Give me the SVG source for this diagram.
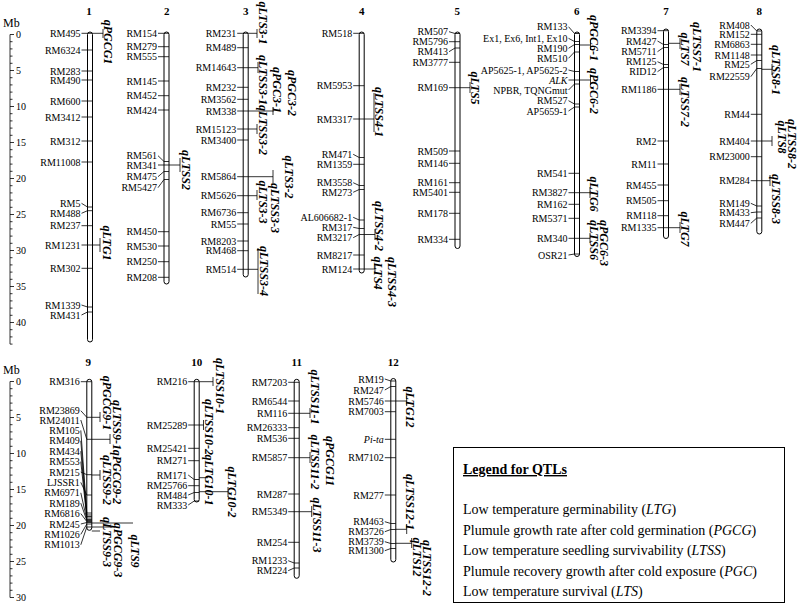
<svg xmlns="http://www.w3.org/2000/svg" width="800" height="605" viewBox="0 0 800 605">
<style>
.m{font-family:'Liberation Serif',serif;font-size:10px;text-anchor:end;fill:#000}
.i{font-style:italic}
.q{font-family:'Liberation Serif',serif;font-size:12px;font-style:italic;font-weight:bold;text-anchor:middle;fill:#000}
.h{font-family:'Liberation Serif',serif;font-size:11px;font-weight:bold;text-anchor:middle;fill:#000}
.s{font-family:'Liberation Serif',serif;font-size:10px;fill:#000}
.mb{font-family:'Liberation Serif',serif;font-size:12px;fill:#000}
.c{fill:#fff;stroke:#000;stroke-width:1}
.l{fill:none;stroke:#000;stroke-width:0.8}
.lg{font-family:'Liberation Serif',serif;font-size:14px;fill:#000}
</style>
<rect width="800" height="605" fill="#fff"/>
<g id="scale-top">
<text class="mb" x="3" y="27">Mb</text>
<path class="l" d="M10,34.5V344.1M10,34.5h4M10,41.7h2.5M10,48.9h2.5M10,56.1h2.5M10,63.3h2.5M10,70.5h4M10,77.7h2.5M10,84.9h2.5M10,92.1h2.5M10,99.3h2.5M10,106.5h4M10,113.7h2.5M10,120.9h2.5M10,128.1h2.5M10,135.3h2.5M10,142.5h4M10,149.7h2.5M10,156.9h2.5M10,164.1h2.5M10,171.3h2.5M10,178.5h4M10,185.7h2.5M10,192.9h2.5M10,200.1h2.5M10,207.3h2.5M10,214.5h4M10,221.7h2.5M10,228.9h2.5M10,236.1h2.5M10,243.3h2.5M10,250.5h4M10,257.7h2.5M10,264.9h2.5M10,272.1h2.5M10,279.3h2.5M10,286.5h4M10,293.7h2.5M10,300.9h2.5M10,308.1h2.5M10,315.3h2.5M10,322.5h4M10,329.7h2.5M10,336.9h2.5M10,344.1h2.5"/>
<text class="s" x="16" y="38">0</text><text class="s" x="16" y="74">5</text><text class="s" x="16" y="110">10</text><text class="s" x="16" y="146">15</text><text class="s" x="16" y="182">20</text><text class="s" x="16" y="218">25</text><text class="s" x="16" y="254">30</text><text class="s" x="16" y="290">35</text><text class="s" x="16" y="326">40</text>
</g>
<g id="scale-bottom">
<text class="mb" x="3" y="374">Mb</text>
<path class="l" d="M10,381.5V597.5M10,381.5h4M10,388.7h2.5M10,395.9h2.5M10,403.1h2.5M10,410.3h2.5M10,417.5h4M10,424.7h2.5M10,431.9h2.5M10,439.1h2.5M10,446.3h2.5M10,453.5h4M10,460.7h2.5M10,467.9h2.5M10,475.1h2.5M10,482.3h2.5M10,489.5h4M10,496.7h2.5M10,503.9h2.5M10,511.1h2.5M10,518.3h2.5M10,525.5h4M10,532.7h2.5M10,539.9h2.5M10,547.1h2.5M10,554.3h2.5M10,561.5h4M10,568.7h2.5M10,575.9h2.5M10,583.1h2.5M10,590.3h2.5M10,597.5h4"/>
<text class="s" x="16" y="385">0</text><text class="s" x="16" y="421">5</text><text class="s" x="16" y="457">10</text><text class="s" x="16" y="493">15</text><text class="s" x="16" y="529">20</text><text class="s" x="16" y="565">25</text><text class="s" x="16" y="601">30</text>
</g>

<g id="chr1">
<text class="h" x="89" y="15">1</text>
<rect class="c" x="87.5" y="32" width="5" height="310" rx="2.5"/>
<path class="l" d="M81.5,33.3H92.5M81.5,50H92.5M81.5,71H92.5M81.5,80H92.5M81.5,101H92.5M81.5,117H92.5M81.5,141H92.5M81.5,162H92.5M81.5,203.3L87.5,207H92.5M81.5,213.3L87.5,210.7H92.5M81.5,225.7H92.5M81.5,245H92.5M81.5,268.3H92.5M81.5,305L87.5,307H92.5M81.5,315L87.5,312H92.5"/>
<text class="m" x="80.5" y="36.8">RM495</text><text class="m" x="80.5" y="53.5">RM6324</text><text class="m" x="80.5" y="74.5">RM283</text><text class="m" x="80.5" y="83.5">RM490</text><text class="m" x="80.5" y="104.5">RM600</text><text class="m" x="80.5" y="120.5">RM3412</text><text class="m" x="80.5" y="144.5">RM312</text><text class="m" x="80.5" y="165.5">RM11008</text><text class="m" x="80.5" y="206.8">RM5</text><text class="m" x="80.5" y="216.8">RM488</text><text class="m" x="80.5" y="229.2">RM237</text><text class="m" x="80.5" y="248.5">RM1231</text><text class="m" x="80.5" y="271.8">RM302</text><text class="m" x="80.5" y="308.5">RM1339</text><text class="m" x="80.5" y="318.5">RM431</text>
</g>

<g id="chr2">
<text class="h" x="166.7" y="15">2</text>
<rect class="c" x="164" y="32" width="5" height="252" rx="2.5"/>
<path class="l" d="M158,33.3H169M158,46.7H169M158,56.7H169M158,81H169M158,95.7H169M158,110H169M158,155.7L164,161.5H169M158,165H169M158,176.7L164,171.5H169M158,187.7L164,179.5H169M158,231.7H169M158,246H169M158,261.7H169M158,277.3H169"/>
<text class="m" x="157" y="36.8">RM154</text><text class="m" x="157" y="50.2">RM279</text><text class="m" x="157" y="60.2">RM555</text><text class="m" x="157" y="84.5">RM145</text><text class="m" x="157" y="99.2">RM452</text><text class="m" x="157" y="113.5">RM424</text><text class="m" x="157" y="159.2">RM561</text><text class="m" x="157" y="168.5">RM341</text><text class="m" x="157" y="180.2">RM475</text><text class="m" x="157" y="191.2">RM5427</text><text class="m" x="157" y="235.2">RM450</text><text class="m" x="157" y="249.5">RM530</text><text class="m" x="157" y="265.2">RM250</text><text class="m" x="157" y="280.8">RM208</text>
</g>

<g id="chr3">
<text class="h" x="245.7" y="15">3</text>
<rect class="c" x="243.2" y="32" width="5" height="245" rx="2.5"/>
<path class="l" d="M237.2,33.3H248.2M237.2,47.7H248.2M237.2,67.7H248.2M237.2,87.3H248.2M237.2,99.3H248.2M237.2,111H248.2M237.2,129H248.2M237.2,140H248.2M237.2,176.7H248.2M237.2,195.7H248.2M237.2,212.7H248.2M237.2,224H248.2M237.2,241H248.2M237.2,250.7H248.2M237.2,269.3H248.2"/>
<text class="m" x="236.2" y="36.8">RM231</text><text class="m" x="236.2" y="51.2">RM489</text><text class="m" x="236.2" y="71.2">RM14643</text><text class="m" x="236.2" y="90.8">RM232</text><text class="m" x="236.2" y="102.8">RM3562</text><text class="m" x="236.2" y="114.5">RM338</text><text class="m" x="236.2" y="132.5">RM15123</text><text class="m" x="236.2" y="143.5">RM3400</text><text class="m" x="236.2" y="180.2">RM5864</text><text class="m" x="236.2" y="199.2">RM5626</text><text class="m" x="236.2" y="216.2">RM6736</text><text class="m" x="236.2" y="227.5">RM55</text><text class="m" x="236.2" y="244.5">RM8203</text><text class="m" x="236.2" y="254.2">RM468</text><text class="m" x="236.2" y="272.8">RM514</text>
</g>

<g id="chr4">
<text class="h" x="361.7" y="15">4</text>
<rect class="c" x="359.2" y="32" width="5" height="241" rx="2.5"/>
<path class="l" d="M353.2,33.3H364.2M353.2,85.7H364.2M353.2,119H364.2M353.2,154.3L359.2,157.5H364.2M353.2,164.3H364.2M353.2,182.7L359.2,185.5H364.2M353.2,192.3L359.2,189.5H364.2M353.2,217.3L359.2,220H364.2M353.2,227.3L359.2,228.5H364.2M353.2,237.7L359.2,234.5H364.2M353.2,255H364.2M353.2,269H364.2"/>
<text class="m" x="352.2" y="36.8">RM518</text><text class="m" x="352.2" y="89.2">RM5953</text><text class="m" x="352.2" y="122.5">RM3317</text><text class="m" x="352.2" y="157.8">RM471</text><text class="m" x="352.2" y="167.8">RM1359</text><text class="m" x="352.2" y="186.2">RM3558</text><text class="m" x="352.2" y="195.8">RM273</text><text class="m" x="352.2" y="220.8">AL606682-1</text><text class="m" x="352.2" y="230.8">RM317</text><text class="m" x="352.2" y="241.2">RM3217</text><text class="m" x="352.2" y="258.5">RM8217</text><text class="m" x="352.2" y="272.5">RM124</text>
</g>

<g id="chr5">
<text class="h" x="457.3" y="15">5</text>
<rect class="c" x="455" y="32" width="5" height="216.5" rx="2.5"/>
<path class="l" d="M449,31.7L455,33.5H460M449,41.7H460M449,51.7L455,48H460M449,62.3H460M449,87.7H460M449,151H460M449,163.3H460M449,182.7H460M449,192.3H460M449,213.3H460M449,239.3H460"/>
<text class="m" x="448" y="35.2">RM507</text><text class="m" x="448" y="45.2">RM5796</text><text class="m" x="448" y="55.2">RM413</text><text class="m" x="448" y="65.8">RM3777</text><text class="m" x="448" y="91.2">RM169</text><text class="m" x="448" y="154.5">RM509</text><text class="m" x="448" y="166.8">RM146</text><text class="m" x="448" y="186.2">RM161</text><text class="m" x="448" y="195.8">RM5401</text><text class="m" x="448" y="216.8">RM178</text><text class="m" x="448" y="242.8">RM334</text>
</g>

<g id="chr6">
<text class="h" x="576.7" y="15">6</text>
<rect class="c" x="574.5" y="32" width="5" height="224.5" rx="2.5"/>
<path class="l" d="M568.5,26.7L574.5,33.5H579.5M568.5,38.3L574.5,41.5H579.5M568.5,48.3L574.5,44.5H579.5M568.5,58.3L574.5,52H579.5M568.5,70L574.5,71.5H579.5M568.5,80H579.5M568.5,90L574.5,84H579.5M568.5,100.7L574.5,104H579.5M568.5,111L574.5,107H579.5M568.5,173.3H579.5M568.5,192.7H579.5M568.5,204.3H579.5M568.5,218.3H579.5M568.5,238.3H579.5M568.5,255L574.5,254H579.5"/>
<text class="m" x="567.5" y="30.2">RM133</text><text class="m" x="567.5" y="41.8">Ex1, Ex6, Int1, Ex10</text><text class="m" x="567.5" y="51.8">RM190</text><text class="m" x="567.5" y="61.8">RM510</text><text class="m" x="567.5" y="73.5">AP5625-1, AP5625-2</text><text class="m i" x="567.5" y="83.5">ALK</text><text class="m" x="567.5" y="93.5">NPBR, TQNGmut</text><text class="m" x="567.5" y="104.2">RM527</text><text class="m" x="567.5" y="114.5">AP5659-1</text><text class="m" x="567.5" y="176.8">RM541</text><text class="m" x="567.5" y="196.2">RM3827</text><text class="m" x="567.5" y="207.8">RM162</text><text class="m" x="567.5" y="221.8">RM5371</text><text class="m" x="567.5" y="241.8">RM340</text><text class="m" x="567.5" y="258.5">OSR21</text>
</g>

<g id="chr7">
<text class="h" x="666" y="15">7</text>
<rect class="c" x="663.5" y="29" width="5" height="209.5" rx="2.5"/>
<path class="l" d="M657.5,30.7H668.5M657.5,41L663.5,44.5H668.5M657.5,51.7L663.5,47.5H668.5M657.5,61.7L663.5,64.5H668.5M657.5,71.7L663.5,67.5H668.5M657.5,89.3H668.5M657.5,141H668.5M657.5,164H668.5M657.5,185H668.5M657.5,200.7H668.5M657.5,215.7H668.5M657.5,227.7H668.5"/>
<text class="m" x="656.5" y="34.2">RM3394</text><text class="m" x="656.5" y="44.5">RM427</text><text class="m" x="656.5" y="55.2">RM5711</text><text class="m" x="656.5" y="65.2">RM125</text><text class="m" x="656.5" y="75.2">RID12</text><text class="m" x="656.5" y="92.8">RM1186</text><text class="m" x="656.5" y="144.5">RM2</text><text class="m" x="656.5" y="167.5">RM11</text><text class="m" x="656.5" y="188.5">RM455</text><text class="m" x="656.5" y="204.2">RM505</text><text class="m" x="656.5" y="219.2">RM118</text><text class="m" x="656.5" y="231.2">RM1335</text>
</g>

<g id="chr8">
<text class="h" x="759.3" y="15">8</text>
<rect class="c" x="756.8" y="29" width="5" height="205" rx="2.5"/>
<path class="l" d="M750.8,25L756.8,31H761.8M750.8,34.3H761.8M750.8,44.3H761.8M750.8,55H761.8M750.8,64.3L756.8,60.5H761.8M750.8,76.7L756.8,68.5H761.8M750.8,114.3H761.8M750.8,141H761.8M750.8,156.7H761.8M750.8,180.7H761.8M750.8,203.3L756.8,206H761.8M750.8,212.7L756.8,212H761.8M750.8,223.3L756.8,218H761.8"/>
<text class="m" x="749.8" y="28.5">RM408</text><text class="m" x="749.8" y="37.8">RM152</text><text class="m" x="749.8" y="47.8">RM6863</text><text class="m" x="749.8" y="58.5">RM1148</text><text class="m" x="749.8" y="67.8">RM25</text><text class="m" x="749.8" y="80.2">RM22559</text><text class="m" x="749.8" y="117.8">RM44</text><text class="m" x="749.8" y="144.5">RM404</text><text class="m" x="749.8" y="160.2">RM23000</text><text class="m" x="749.8" y="184.2">RM284</text><text class="m" x="749.8" y="206.8">RM149</text><text class="m" x="749.8" y="216.2">RM433</text><text class="m" x="749.8" y="226.8">RM447</text>
</g>

<g id="chr9">
<text class="h" x="88.3" y="365.7">9</text>
<rect class="c" x="86.8" y="379.3" width="5" height="151" rx="2.5"/>
<path class="l" d="M80.8,381.7H91.8M80.8,410.7L86.8,417.3H91.8M80.8,420L86.8,439.3H91.8M80.8,430.4L86.8,513H91.8M80.8,440.8L86.8,515H91.8M80.8,451.2L86.8,516.5H91.8M80.8,461.6L86.8,518H91.8M80.8,472L86.8,474.7H91.8M80.8,482.4L86.8,495H91.8M80.8,492.8L86.8,519.5H91.8M80.8,503.2L86.8,520.5H91.8M80.8,513.6L86.8,521.5H91.8M80.8,524L86.8,522.5H91.8M80.8,534.4L86.8,524H91.8M80.8,544.8L86.8,527H91.8"/>
<text class="m" x="79.8" y="385.2">RM316</text><text class="m" x="79.8" y="414.2">RM23869</text><text class="m" x="79.8" y="423.5">RM24011</text><text class="m" x="79.8" y="433.9">RM105</text><text class="m" x="79.8" y="444.3">RM409</text><text class="m" x="79.8" y="454.7">RM434</text><text class="m" x="79.8" y="465.1">RM553</text><text class="m" x="79.8" y="475.5">RM215</text><text class="m" x="79.8" y="485.9">LJSSR1</text><text class="m" x="79.8" y="496.3">RM6971</text><text class="m" x="79.8" y="506.7">RM189</text><text class="m" x="79.8" y="517.1">RM6816</text><text class="m" x="79.8" y="527.5">RM245</text><text class="m" x="79.8" y="537.9">RM1026</text><text class="m" x="79.8" y="548.3">RM1013</text>
</g>

<g id="chr10">
<text class="h" x="196.7" y="365.7">10</text>
<rect class="c" x="194.2" y="379.3" width="5" height="122.7" rx="2.5"/>
<path class="l" d="M188.2,381.7H199.2M188.2,425H199.2M188.2,448.3H199.2M188.2,460.7H199.2M188.2,475L194.2,479.5H199.2M188.2,485.7H199.2M188.2,495L194.2,492.5H199.2M188.2,505L194.2,501H199.2"/>
<text class="m" x="187.2" y="385.2">RM216</text><text class="m" x="187.2" y="428.5">RM25289</text><text class="m" x="187.2" y="451.8">RM25421</text><text class="m" x="187.2" y="464.2">RM271</text><text class="m" x="187.2" y="478.5">RM171</text><text class="m" x="187.2" y="489.2">RM25766</text><text class="m" x="187.2" y="498.5">RM484</text><text class="m" x="187.2" y="508.5">RM333</text>
</g>

<g id="chr11">
<text class="h" x="296.7" y="365.7">11</text>
<rect class="c" x="294.2" y="379.3" width="5" height="199" rx="2.5"/>
<path class="l" d="M288.2,382.3H299.2M288.2,401H299.2M288.2,413.3H299.2M288.2,427.7H299.2M288.2,438.3H299.2M288.2,457.7H299.2M288.2,494H299.2M288.2,511.7H299.2M288.2,542.3H299.2M288.2,560.7L294.2,563H299.2M288.2,570.7L294.2,568H299.2"/>
<text class="m" x="287.2" y="385.8">RM7203</text><text class="m" x="287.2" y="404.5">RM6544</text><text class="m" x="287.2" y="416.8">RM116</text><text class="m" x="287.2" y="431.2">RM26333</text><text class="m" x="287.2" y="441.8">RM536</text><text class="m" x="287.2" y="461.2">RM5857</text><text class="m" x="287.2" y="497.5">RM287</text><text class="m" x="287.2" y="515.2">RM5349</text><text class="m" x="287.2" y="545.8">RM254</text><text class="m" x="287.2" y="564.2">RM1233</text><text class="m" x="287.2" y="574.2">RM224</text>
</g>

<g id="chr12">
<text class="h" x="393.3" y="365.7">12</text>
<rect class="c" x="390.8" y="378.5" width="5" height="183.5" rx="2.5"/>
<path class="l" d="M384.8,379L390.8,381H395.8M384.8,390L390.8,386.5H395.8M384.8,401H395.8M384.8,411.7H395.8M384.8,439.3H395.8M384.8,457.7H395.8M384.8,495H395.8M384.8,521.7L390.8,523.5H395.8M384.8,531.7L390.8,529.5H395.8M384.8,541.7L390.8,543.5H395.8M384.8,550.7L390.8,548.5H395.8"/>
<text class="m" x="383.8" y="382.5">RM19</text><text class="m" x="383.8" y="393.5">RM247</text><text class="m" x="383.8" y="404.5">RM5746</text><text class="m" x="383.8" y="415.2">RM7003</text><text class="m i" x="383.8" y="442.8">Pi-ta</text><text class="m" x="383.8" y="461.2">RM7102</text><text class="m" x="383.8" y="498.5">RM277</text><text class="m" x="383.8" y="525.2">RM463</text><text class="m" x="383.8" y="535.2">RM3726</text><text class="m" x="383.8" y="545.2">RM3739</text><text class="m" x="383.8" y="554.2">RM1300</text>
</g>

<g id="connectors">
<path class="l" d="M92.5,33.3H103M103,29V38M92.5,245H100M100,238V252
M169,165H180M180,158V172
M248.2,33.3H257M257,29V38M248.2,67.7H258M258,62V73M248.2,129H257M257,124V134M248.2,111H273M273,107V115M248.2,176.7H273M273,170V183M248.2,195.7H257M257,190V200M248.2,269.3H258M258,248V294
M364.2,119H374M374,93V132M364.2,234.5H375M375,229V240M364.2,269H375M375,264V274
M460,87.7H470M470,82V93
M579.5,45H590.5M590.5,40V50M579.5,80H590.5M590.5,75V85M579.5,192.7H590M590,187V198M579.5,238.3H590M590,233V243
M668.5,43.3H680M680,38V49M668.5,89.3H680M680,84V95M668.5,227.7H680M680,222V233
M761.8,69.3H772M772,64V75M761.8,141H772M772,136V146M761.8,180.7H770M770,175V186
M91.8,417.3H100M100,412V422M91.8,439.3H110M110,434V444M91.8,475H100M100,470V480M91.8,523H133M91.8,527H115M91.8,531H100
M199.2,381.7H213M213,377V386M199.2,425H203.5M203.5,420V430M199.2,477.7H208M199.2,491.7H228M228,487V497
M299.2,413.3H310M310,408V418M299.2,457.7H310M310,452V463M299.2,511.7H311.7M311.7,506V517
M395.8,401H406.7M406.7,396V406M395.8,529.3H406.7M406.7,524V534M395.8,543.3H411.7M411.7,538V548"/>
</g>

<g id="qtl-labels">
<text class="q" transform="translate(104,42) rotate(90)">qPGCG1</text>
<text class="q" transform="translate(103,243) rotate(90)">qLTG1</text>
<text class="q" transform="translate(182,170) rotate(90)">qLTSS2</text>
<text class="q" transform="translate(259,23) rotate(90)">qLTS3-1</text>
<text class="q" transform="translate(259,80) rotate(90)">qLTSS3-1</text>
<text class="q" transform="translate(259,130) rotate(90)">qLTSS3-2</text>
<text class="q" transform="translate(273,90) rotate(90)">qPGC3-1</text>
<text class="q" transform="translate(288,93) rotate(90)">qPGC3-2</text>
<text class="q" transform="translate(285,177) rotate(90)">qLTS3-2</text>
<text class="q" transform="translate(271,208) rotate(90)">qLTSS3-3</text>
<text class="q" transform="translate(259,202) rotate(90)">qLTS3-3</text>
<text class="q" transform="translate(260,271) rotate(90)">qLTSS3-4</text>
<text class="q" transform="translate(375,112) rotate(90)">qLTSS4-1</text>
<text class="q" transform="translate(375,226) rotate(90)">qLTSS4-2</text>
<text class="q" transform="translate(374,273) rotate(90)">qLTS4</text>
<text class="q" transform="translate(388,282) rotate(90)">qLTSS4-3</text>
<text class="q" transform="translate(471,88) rotate(90)">qLTS5</text>
<text class="q" transform="translate(590,38) rotate(90)">qPGC6-1</text>
<text class="q" transform="translate(590,91) rotate(90)">qPGC6-2</text>
<text class="q" transform="translate(590,194) rotate(90)">qLTG6</text>
<text class="q" transform="translate(590,240) rotate(90)">qLTSS6</text>
<text class="q" transform="translate(600,243) rotate(90)">qPGC6-3</text>
<text class="q" transform="translate(693,47) rotate(90)">qLTSS7-1</text>
<text class="q" transform="translate(681,49) rotate(90)">qLTS7</text>
<text class="q" transform="translate(681,102) rotate(90)">qLTSS7-2</text>
<text class="q" transform="translate(681,229) rotate(90)">qLTG7</text>
<text class="q" transform="translate(772,70) rotate(90)">qLTSS8-1</text>
<text class="q" transform="translate(778,137) rotate(90)">qLTS8</text>
<text class="q" transform="translate(788,144) rotate(90)">qLTSS8-2</text>
<text class="q" transform="translate(772,199) rotate(90)">qLTSS8-3</text>
<text class="q" transform="translate(103,403) rotate(90)">qPGCG9-1</text>
<text class="q" transform="translate(113,425) rotate(90)">qLTSS9-1</text>
<text class="q" transform="translate(103,480) rotate(90)">qLTSS9-2</text>
<text class="q" transform="translate(113,477) rotate(90)">qPGCG9-2</text>
<text class="q" transform="translate(103,542) rotate(90)">qLTSS9-3</text>
<text class="q" transform="translate(114,550) rotate(90)">qPGCG9-3</text>
<text class="q" transform="translate(131,551) rotate(90)">qLTS9</text>
<text class="q" transform="translate(216,386) rotate(90)">qLTSS10-1</text>
<text class="q" transform="translate(205,427) rotate(90)">qLTSS10-2</text>
<text class="q" transform="translate(205,480) rotate(90)">qLTG10-1</text>
<text class="q" transform="translate(228,492) rotate(90)">qLTG10-2</text>
<text class="q" transform="translate(311,397) rotate(90)">qLTSS11-1</text>
<text class="q" transform="translate(311,462) rotate(90)">qLTSS11-2</text>
<text class="q" transform="translate(326,461) rotate(90)">qPGCG11</text>
<text class="q" transform="translate(313,525) rotate(90)">qLTSS11-3</text>
<text class="q" transform="translate(406,407) rotate(90)">qLTG12</text>
<text class="q" transform="translate(406,502) rotate(90)">qLTSS12-1</text>
<text class="q" transform="translate(413,557) rotate(90)">qLTS12</text>
<text class="q" transform="translate(423,568) rotate(90)">qLTSS12-2</text>
</g>

<g id="legend">
<rect x="453.5" y="447.5" width="331" height="155" fill="#fff" stroke="#000" stroke-width="1"/>
<text class="lg" x="463" y="474" font-weight="bold" text-decoration="underline">Legend for QTLs</text>
<text class="lg" x="463" y="514">Low temperature germinability (<tspan font-style="italic">LTG</tspan>)</text>
<text class="lg" x="463" y="535">Plumule growth rate after cold germination (<tspan font-style="italic">PGCG</tspan>)</text>
<text class="lg" x="463" y="555">Low temperature seedling survivability (<tspan font-style="italic">LTSS</tspan>)</text>
<text class="lg" x="463" y="576">Plumule recovery growth after cold exposure (<tspan font-style="italic">PGC</tspan>)</text>
<text class="lg" x="463" y="596">Low temperature survival (<tspan font-style="italic">LTS</tspan>)</text>
</g>
</svg>
